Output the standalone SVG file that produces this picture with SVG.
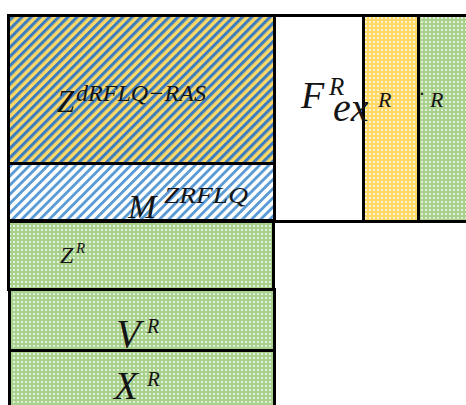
<svg xmlns="http://www.w3.org/2000/svg" width="466" height="405" viewBox="0 0 466 405">
<style>
.box{stroke:#000;stroke-width:3}
.t{font-family:"Liberation Serif","DejaVu Serif",serif;font-style:italic;fill:#141414}
</style>
<defs>
<pattern id="hatchY" patternUnits="userSpaceOnUse" width="6.5" height="6.5" patternTransform="rotate(45)">
<rect width="6.5" height="6.5" fill="#FFD966"/>
<rect width="3.1" height="6.5" fill="#3C7CC0"/>
</pattern>
<pattern id="hatchW" patternUnits="userSpaceOnUse" width="6.5" height="6.5" patternTransform="rotate(45)">
<rect width="6.5" height="6.5" fill="#FFFFFF"/>
<rect width="2.8" height="6.5" fill="#5B9BD5"/>
</pattern>
<pattern id="dotG" patternUnits="userSpaceOnUse" width="4" height="4">
<rect width="4" height="4" fill="#A9D18E"/>
<rect x="1" y="1" width="2" height="2" fill="#E2F0D9"/>
</pattern>
<pattern id="dotY" patternUnits="userSpaceOnUse" width="4" height="4">
<rect width="4" height="4" fill="#FFD966"/>
<rect x="1" y="1" width="2" height="2" fill="#FFF2CC"/>
</pattern>
</defs>
<rect width="466" height="405" fill="#fff"/>

<g id="node-zdrflq">
<rect class="box" x="8.5" y="15.5" width="266" height="148" fill="url(#hatchY)"/>
<text class="t"><tspan x="57" y="112" font-size="31">Z</tspan><tspan x="76" y="101" font-size="23" textLength="130" lengthAdjust="spacingAndGlyphs">dRFLQ−RAS</tspan></text>
</g>

<g id="node-mzrflq">
<rect class="box" x="8.5" y="163.5" width="266" height="57" fill="url(#hatchW)"/>
<text class="t"><tspan x="128" y="218" font-size="34">M</tspan><tspan x="164" y="203" font-size="24" textLength="84" lengthAdjust="spacingAndGlyphs">ZRFLQ</tspan></text>
</g>

<g id="node-zr">
<rect class="box" x="8.5" y="221.5" width="265" height="68" fill="url(#dotG)"/>
<text class="t"><tspan x="60" y="263" font-size="24">Z</tspan><tspan x="76" y="253" font-size="15">R</tspan></text>
</g>

<g id="node-vr">
<rect class="box" x="9.5" y="289.5" width="265" height="61" fill="url(#dotG)"/>
<text class="t"><tspan x="116" y="347" font-size="40">V</tspan><tspan x="147" y="333" font-size="20">R</tspan></text>
</g>

<g id="node-xr">
<rect class="box" x="9.5" y="350.5" width="265" height="60" fill="url(#dotG)"/>
<text class="t"><tspan x="114" y="399" font-size="39">X</tspan><tspan x="147" y="386" font-size="21">R</tspan></text>
</g>

<g id="node-fex">
<rect class="box" x="274.5" y="15.5" width="89" height="206" fill="#fff"/>
</g>

<g id="node-yellow">
<rect class="box" x="363.5" y="15.5" width="55" height="206" fill="url(#dotY)"/>
</g>

<g id="node-green">
<rect class="box" x="418.5" y="15.5" width="52" height="206" fill="url(#dotG)"/>
</g>

<g id="labels-right">
<text class="t"><tspan x="301" y="108" font-size="38">F</tspan><tspan x="329" y="95" font-size="25">R</tspan><tspan x="333" y="121" font-size="40">ex</tspan><tspan x="378" y="107" font-size="22">R</tspan></text>
<text class="t"><tspan x="419" y="101" font-size="21">·</tspan><tspan x="430" y="107" font-size="22">R</tspan></text>
</g>

<g id="connectors"></g>
</svg>
